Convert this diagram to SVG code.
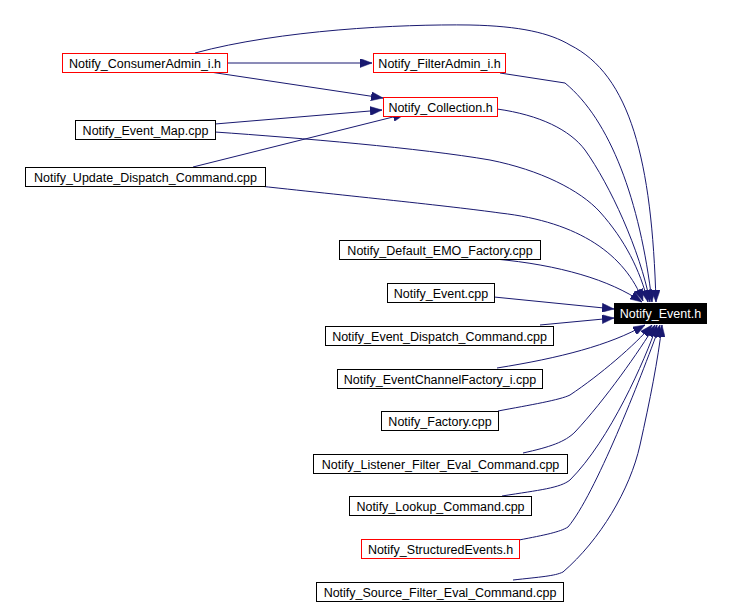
<svg xmlns="http://www.w3.org/2000/svg" width="729" height="603" viewBox="0 0 729 603">
<style>
.n rect{fill:#fff;stroke:#000;stroke-width:1}
.n.r rect{stroke:#f00}
.n text{font-family:"Liberation Sans",Arial,sans-serif;font-size:12.5px;text-anchor:middle;fill:#000}
.n.k rect{fill:#000;stroke:#000}
.n.k text{fill:#fff}
.e path{fill:none;stroke:#191970;stroke-width:1;marker-end:url(#ah)}
</style>
<defs>
<marker id="ah" markerUnits="userSpaceOnUse" viewBox="0 0 12 9" refX="12" refY="4.5" markerWidth="12" markerHeight="9" orient="auto">
<path d="M0,0 L12,4.5 L0,9 z" fill="#191970" stroke="#191970" stroke-width="0.5"/>
</marker>
</defs>
<rect width="729" height="603" fill="#fff"/>
<g class="e" id="edges">
<path d="M228,63 L372,63"/>
<path d="M210,72 L383,98"/>
<path d="M215,124 L382,110"/>
<path d="M193,167 L405,114"/>
<path d="M195,53 C280,30 400,24 470,25 C520,26 550,33 570,45 C630,75 652,160 656,302"/>
<path d="M500,73 L565,83 C610,120 640,200 652,302"/>
<path d="M497,109 C540,115 570,130 585,150 C610,185 640,250 650,302"/>
<path d="M215,132 C300,138 420,148 490,160 C540,170 580,190 600,212 C625,240 640,270 648,302"/>
<path d="M250,185 C350,196 450,206 500,213 C580,222 625,255 643,301"/>
<path d="M495,259 C560,265 610,280 642,302"/>
<path d="M494,297 L614,309"/>
<path d="M540,325 L614,318"/>
<path d="M497,368 C560,358 610,345 645,325"/>
<path d="M498,411 C530,405 560,400 570,395 C600,375 635,345 652,325"/>
<path d="M523,453 C550,447 565,442 575,432 C605,400 640,350 655,325"/>
<path d="M502,496 C540,490 560,488 570,480 C610,440 645,360 657,325"/>
<path d="M519,540 C545,535 560,532 568,527 C595,495 640,380 660,325"/>
<path d="M513,580 C540,577 555,576 563,572 C600,540 630,490 640,445 C650,400 658,360 662,325"/>
</g>
<g class="n r" id="n_consumeradmin"><rect x="62.5" y="53.5" width="165" height="19"/><text x="145" y="68">Notify_ConsumerAdmin_i.h</text></g>
<g class="n r" id="n_filteradmin"><rect x="373.5" y="53.5" width="132" height="19"/><text x="439.5" y="68">Notify_FilterAdmin_i.h</text></g>
<g class="n r" id="n_collection"><rect x="383.5" y="97.5" width="114" height="19"/><text x="440.5" y="112">Notify_Collection.h</text></g>
<g class="n" id="n_eventmap"><rect x="75.5" y="120.5" width="140" height="19"/><text x="145.5" y="135">Notify_Event_Map.cpp</text></g>
<g class="n" id="n_updatedispatch"><rect x="25.5" y="167.5" width="240" height="19"/><text x="145.5" y="182">Notify_Update_Dispatch_Command.cpp</text></g>
<g class="n" id="n_defaultemo"><rect x="339.5" y="240.5" width="201" height="19"/><text x="440" y="255">Notify_Default_EMO_Factory.cpp</text></g>
<g class="n" id="n_eventcpp"><rect x="387.5" y="283.5" width="107" height="19"/><text x="441" y="298">Notify_Event.cpp</text></g>
<g class="n" id="n_eventdispatch"><rect x="325.5" y="326.5" width="228" height="19"/><text x="439.5" y="341">Notify_Event_Dispatch_Command.cpp</text></g>
<g class="n" id="n_ecfactory"><rect x="337.5" y="369.5" width="205" height="19"/><text x="440" y="384">Notify_EventChannelFactory_i.cpp</text></g>
<g class="n" id="n_factory"><rect x="381.5" y="411.5" width="117" height="19"/><text x="440" y="426">Notify_Factory.cpp</text></g>
<g class="n" id="n_listener"><rect x="313.5" y="454.5" width="254" height="19"/><text x="440.5" y="469">Notify_Listener_Filter_Eval_Command.cpp</text></g>
<g class="n" id="n_lookup"><rect x="349.5" y="496.5" width="182" height="19"/><text x="440.5" y="511">Notify_Lookup_Command.cpp</text></g>
<g class="n r" id="n_structured"><rect x="361.5" y="539.5" width="158" height="19"/><text x="440.5" y="554">Notify_StructuredEvents.h</text></g>
<g class="n" id="n_sourcefilter"><rect x="316.5" y="582.5" width="247" height="19"/><text x="440" y="597">Notify_Source_Filter_Eval_Command.cpp</text></g>
<g class="n k" id="n_eventh"><rect x="614.5" y="303.5" width="92" height="20"/><text x="660.5" y="318">Notify_Event.h</text></g>
</svg>
